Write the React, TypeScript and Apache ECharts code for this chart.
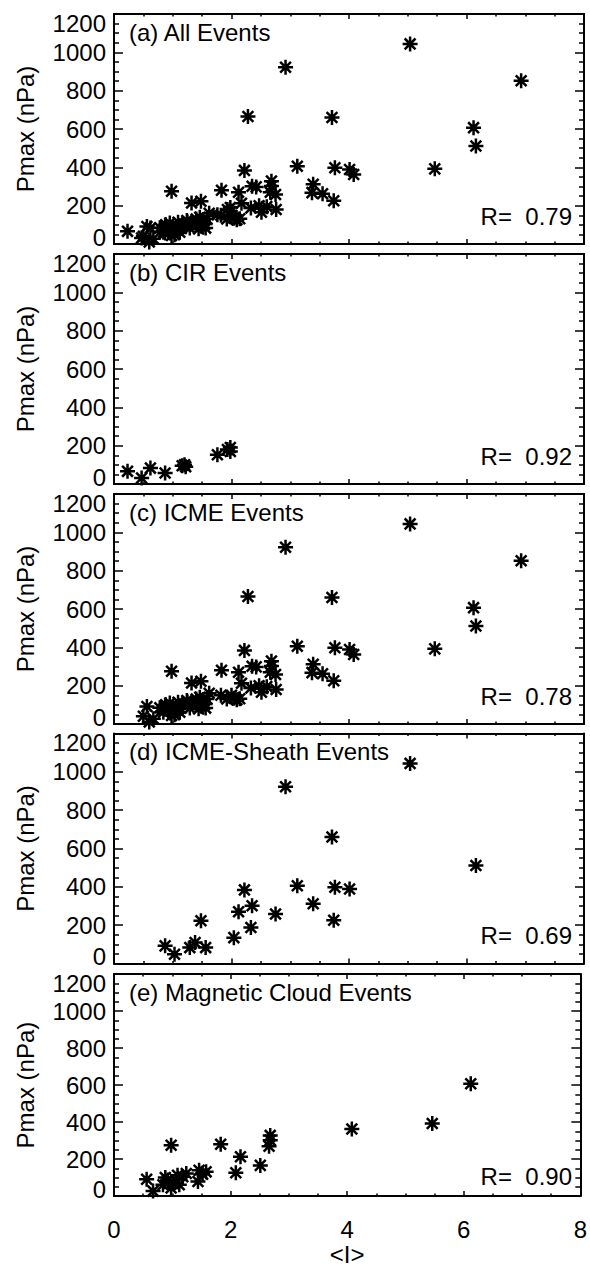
import React, { useEffect, useRef } from "react";
import * as echarts from "echarts";

// ---- data ----
const panelTitles = [
  "(a) All Events",
  "(b) CIR Events",
  "(c) ICME Events",
  "(d) ICME-Sheath Events",
  "(e) Magnetic Cloud Events",
];
const rValues = ["0.79", "0.92", "0.78", "0.69", "0.90"];
const xAxisTitle = "<I>";
const yAxisTitle = "Pmax (nPa)";

const cirX = [0.23, 0.47, 0.62, 0.87, 1.16, 1.22, 1.2, 1.76, 1.93, 1.98, 1.98];
const cirY = [66, 31, 83, 57, 95, 90, 100, 153, 180, 190, 170];

const sheathX = [0.87, 1.03, 1.29, 1.38, 1.56, 1.48, 2.04, 2.12, 2.22, 2.35, 2.33, 2.75, 2.92, 3.12, 3.39, 3.71, 3.76, 3.74, 4.01, 5.04, 6.16];
const sheathY = [92, 48, 83, 109, 83, 223, 135, 270, 384, 301, 188, 258, 922, 406, 312, 660, 398, 226, 389, 1044, 511];

const mcX = [0.56, 0.67, 0.98, 0.84, 0.92, 1.01, 1.09, 1.18, 1.24, 0.98, 1.12, 0.88, 1.44, 1.46, 1.58, 1.52, 1.83, 2.09, 2.17, 2.51, 2.66, 2.68, 2.68, 4.08, 5.46, 6.12];
const mcY = [91, 27, 275, 61, 87, 70, 113, 105, 122, 44, 61, 100, 79, 140, 131, 118, 280, 126, 213, 166, 270, 328, 302, 363, 392, 607];

// ICME events that are neither sheath nor magnetic cloud intervals
const otherIcmeX = [0.5, 0.6, 0.78, 0.95, 1.1, 1.25, 1.32, 1.4, 1.55, 1.62, 1.82, 1.92, 2.0, 2.14, 2.28, 2.42, 2.47, 2.6, 2.76, 3.37, 3.55, 6.93];
const otherIcmeY = [40, 10, 85, 110, 80, 115, 214, 130, 105, 160, 150, 130, 150, 132, 665, 298, 200, 195, 180, 268, 262, 852];

const xMin = 0, xMax = 8, xStep = 2;
const yMin = 0, yMax = 1200, yStep = 200;

// ---- layout ----
const W = 590, H = 1267;
const LEFT = 114, PLOT_W = 470, PLOT_H = 230;
const TOPS = [14, 254, 494, 733.5, 974];
const FONT = "'Liberation Sans', Arial, Helvetica, sans-serif";
const FS = 24;
const ASTERISK = "path://M0,-1L0,1M-1,0L1,0M-0.72,-0.72L0.72,0.72M-0.72,0.72L0.72,-0.72";

const pairs = (xs: number[], ys: number[]) => xs.map((x, i) => [x, ys[i]]);

export default function App() {
  const ref = useRef<HTMLDivElement>(null);
  useEffect(() => {
    if (!ref.current) return;
    const chart = echarts.init(ref.current, undefined, { renderer: "svg" });

    const cir = pairs(cirX, cirY);
    const sheath = pairs(sheathX, sheathY);
    const mc = pairs(mcX, mcY);
    const other = pairs(otherIcmeX, otherIcmeY);
    const icme = [...sheath, ...mc, ...other];
    const all = [...cir, ...icme];
    const panelData = [all, cir, icme, sheath, mc];

    const line = { color: "#000", width: 2 };
    const tickLine = { color: "#000", width: 1.5 };
    const n = panelData.length;

    const grids = TOPS.map((t) => ({ left: LEFT, top: t, width: PLOT_W, height: PLOT_H }));
    const xAxes: any[] = [];
    const yAxes: any[] = [];
    for (let i = 0; i < n; i++) {
      const last = i === n - 1;
      const baseX = {
        gridIndex: i,
        type: "value",
        min: xMin,
        max: xMax,
        interval: xStep,
        axisLine: { show: true, onZero: false, lineStyle: line },
        axisTick: { show: true, inside: true, length: 5, lineStyle: tickLine },
        minorTick: { show: true, splitNumber: 4, length: 2.5, lineStyle: tickLine },
        splitLine: { show: false },
        minorSplitLine: { show: false },
      };
      xAxes.push({
        ...baseX,
        position: "bottom",
        axisLabel: {
          show: last,
          fontSize: FS,
          fontFamily: FONT,
          color: "#000",
          margin: 21,
          showMinLabel: true,
          showMaxLabel: true,
        },
        name: last ? xAxisTitle : "",
        nameLocation: "middle",
        nameGap: 45,
        nameTextStyle: { fontSize: FS, fontFamily: FONT, color: "#000" },
      });
      xAxes.push({ ...baseX, position: "top", axisLabel: { show: false } });

      const baseY = {
        gridIndex: i,
        type: "value",
        min: yMin,
        max: yMax,
        interval: yStep,
        axisLine: { show: true, onZero: false, lineStyle: line },
        axisTick: { show: true, inside: true, length: 9, lineStyle: tickLine },
        minorTick: { show: true, splitNumber: 4, length: 5, lineStyle: tickLine },
        splitLine: { show: false },
        minorSplitLine: { show: false },
      };
      yAxes.push({
        ...baseY,
        position: "left",
        axisLabel: {
          show: true,
          fontSize: FS,
          fontFamily: FONT,
          color: "#000",
          margin: 8,
          showMinLabel: true,
          showMaxLabel: true,
          formatter: (v: number) =>
            v === yMin ? "{lo|" + v + "}" : v === yMax ? "{hi|" + v + "}" : String(v),
          rich: {
            lo: { fontSize: FS, fontFamily: FONT, color: "#000", padding: [0, 0, 14, 0] },
            hi: { fontSize: FS, fontFamily: FONT, color: "#000", padding: [18, 0, 0, 0] },
          },
        },
        name: yAxisTitle,
        nameLocation: "middle",
        nameGap: 77,
        nameTextStyle: { fontSize: FS, fontFamily: FONT, color: "#000" },
      });
      yAxes.push({ ...baseY, position: "right", axisLabel: { show: false } });
    }

    const series = panelData.map((d, i) => ({
      type: "scatter",
      xAxisIndex: i * 2,
      yAxisIndex: i * 2,
      data: d,
      symbol: ASTERISK,
      symbolSize: 15,
      itemStyle: { color: "#000", borderColor: "#000", borderWidth: 2.5, opacity: 1 },
      emphasis: { disabled: true },
    }));

    const graphics: any[] = [];
    TOPS.forEach((t, i) => {
      graphics.push({
        type: "text",
        x: LEFT + 15,
        y: t + 18,
        style: {
          text: panelTitles[i],
          fontSize: FS,
          fontFamily: FONT,
          fill: "#000",
          align: "left",
          verticalAlign: "middle",
        },
      });
      graphics.push({
        type: "text",
        x: LEFT + PLOT_W - 12,
        y: t + PLOT_H - 28,
        style: {
          text: "R=  " + rValues[i],
          fontSize: FS,
          fontFamily: FONT,
          fill: "#000",
          align: "right",
          verticalAlign: "middle",
        },
      });
    });

    chart.setOption({
      animation: false,
      backgroundColor: "#fff",
      textStyle: { fontFamily: FONT },
      grid: grids,
      xAxis: xAxes,
      yAxis: yAxes,
      series,
      graphic: graphics,
    });
    return () => chart.dispose();
  }, []);

  return (
    <div
      ref={ref}
      style={{ position: "absolute", left: 0, top: 0, width: W, height: H, background: "#fff" }}
    />
  );
}
